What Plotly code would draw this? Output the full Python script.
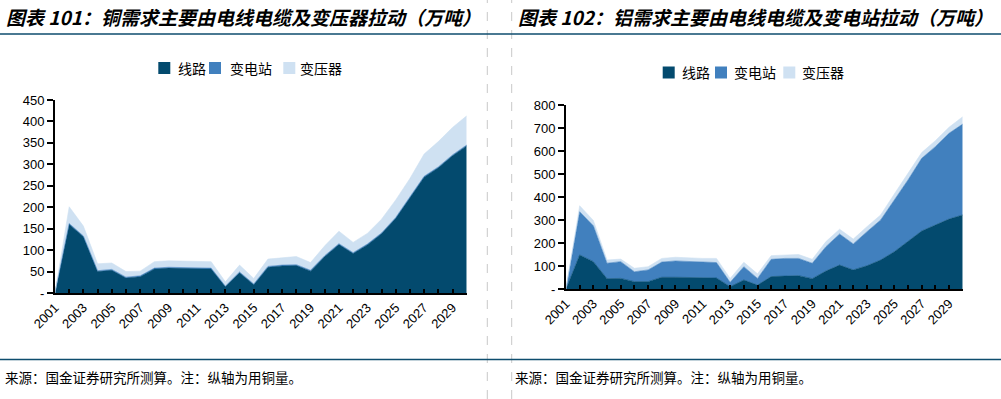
import plotly.graph_objects as go

W, H = 1001, 399

years = list(range(2001, 2031))
x_tick_labels = [str(y) for y in range(2001, 2030, 2)]

# Chart 101 - copper (万吨)
cu_line = [0, 160, 131, 50, 53, 35, 38, 56, 58, 57, 56, 56, 15, 47, 19, 60, 63, 64, 51, 85,
           113, 92, 112, 138, 174, 222, 270, 292, 320, 343]
cu_substation = [0, 2, 2, 2, 2, 2, 2, 2, 2, 2, 2, 2, 1, 2, 2, 2, 2, 2, 2, 2,
                 2, 2, 2, 2, 2, 2, 2, 2, 2, 2]
cu_transformer = [0, 39, 23, 16, 15, 13, 11, 15, 15, 15, 15, 15, 10, 16, 13, 17, 17, 19, 18, 23,
                  29, 24, 25, 32, 41, 43, 52, 59, 64, 68]

# Chart 102 - aluminium (万吨)
al_line = [0, 148, 119, 45, 46, 32, 32, 51, 51, 49, 48, 48, 10, 39, 17, 54, 56, 58, 45, 78,
           104, 83, 101, 126, 162, 206, 252, 278, 304, 322]
al_substation = [0, 188, 156, 67, 73, 43, 51, 66, 71, 70, 69, 67, 19, 58, 29, 75, 77, 75, 67, 106,
                 135, 113, 148, 174, 225, 268, 316, 341, 373, 395]
al_transformer = [0, 26, 23, 14, 11, 15, 14, 16, 16, 16, 16, 18, 17, 19, 20, 16, 16, 17, 17, 22,
                  21, 21, 22, 22, 26, 29, 25, 26, 26, 32]

series_names = ["线路", "变电站", "变压器"]
colors = ["#034A6E", "#4180BE", "#CFE1F2"]

title_left = "图表 101：铜需求主要由电线电缆及变压器拉动（万吨）"
title_right = "图表 102：铝需求主要由电线电缆及变电站拉动（万吨）"
footer_text = "来源：国金证券研究所测算。注：纵轴为用铜量。"

left_y_ticks = list(range(0, 451, 50))
right_y_ticks = list(range(0, 801, 100))


def px(x):
    return x / W


def py(y):
    return 1 - y / H


fig = go.Figure()

for vals, name, col in zip([cu_line, cu_substation, cu_transformer], series_names, colors):
    fig.add_trace(go.Scatter(x=years, y=vals, name=name, stackgroup="cu", mode="lines",
                             line=dict(width=0.6, color=col), fillcolor=col,
                             xaxis="x", yaxis="y", showlegend=False))
for vals, name, col in zip([al_line, al_substation, al_transformer], series_names, colors):
    fig.add_trace(go.Scatter(x=years, y=vals, name=name, stackgroup="al", mode="lines",
                             line=dict(width=0.6, color=col), fillcolor=col,
                             xaxis="x2", yaxis="y2", showlegend=False))

tick_font = dict(family="Arial, Liberation Sans", size=13, color="#000000")


def xaxis_cfg(domain, anchor):
    return dict(domain=domain, anchor=anchor, range=[2001, 2030], tickmode="array",
                tickvals=[int(t) for t in x_tick_labels], ticktext=x_tick_labels,
                tickangle=-45, ticks="inside", ticklen=4, tickwidth=1.5, tickcolor="black",
                minor=dict(dtick=1, tick0=2001, ticks="inside", ticklen=4, tickwidth=1.5,
                           tickcolor="black"),
                showline=True, linecolor="black", linewidth=2, showgrid=False,
                zeroline=False, tickfont=tick_font, fixedrange=True, automargin=False)


def yaxis_cfg(domain, anchor, ticks, top):
    return dict(domain=domain, anchor=anchor, range=[0, top], tickmode="array",
                tickvals=ticks, ticktext=["-"] + [str(t) for t in ticks[1:]],
                ticks="outside", ticklen=6, tickwidth=1.5, tickcolor="black",
                showline=True, linecolor="black", linewidth=2, showgrid=False,
                zeroline=False, tickfont=tick_font, fixedrange=True, automargin=False)


fig.update_layout(
    width=W, height=H,
    autosize=False,
    margin=dict(l=0, r=0, t=0, b=0, pad=0, autoexpand=False),
    paper_bgcolor="white", plot_bgcolor="white",
    xaxis=xaxis_cfg([px(55), px(466.7)], "y"),
    yaxis=yaxis_cfg([py(293), py(100)], "x", left_y_ticks, 450),
    xaxis2=xaxis_cfg([px(566), px(962.7)], "y2"),
    yaxis2=yaxis_cfg([py(289), py(105)], "x2", right_y_ticks, 800),
    showlegend=False,
)

shapes = []
annotations = []

# dashed separators
for xv in [487.3, 511.7]:
    shapes.append(dict(type="line", xref="paper", yref="paper", x0=px(xv), x1=px(xv), y0=0, y1=1,
                       line=dict(color="#C8C8C8", width=1, dash="dash")))
# horizontal rules
for yv in [34, 359.5]:
    shapes.append(dict(type="line", xref="paper", yref="paper", x0=0, x1=1, y0=py(yv), y1=py(yv),
                       line=dict(color="#0E4D6E", width=1.5)))

title_font = dict(family="Noto Sans CJK SC", size=19, color="#000000", weight="bold", style="italic")
annotations.append(dict(text=title_left, xref="paper", yref="paper", x=px(4), y=py(16),
                        xanchor="left", yanchor="middle", showarrow=False, font=title_font))
annotations.append(dict(text=title_right, xref="paper", yref="paper", x=px(516), y=py(16),
                        xanchor="left", yanchor="middle", showarrow=False, font=title_font))

foot_font = dict(family="Noto Sans CJK SC", size=13.5, color="#000000")
annotations.append(dict(text=footer_text, xref="paper", yref="paper", x=px(3), y=py(377),
                        xanchor="left", yanchor="middle", showarrow=False, font=foot_font))
annotations.append(dict(text=footer_text, xref="paper", yref="paper", x=px(513), y=py(377),
                        xanchor="left", yanchor="middle", showarrow=False, font=foot_font))

# legends (manual)
leg_font = dict(family="Noto Sans CJK SC", size=14, color="#000000")
legend_sets = [
    (68, [(158.3, 176), (209, 228), (283.3, 297.7)]),
    (72.5, [(662.7, 680), (715, 732.3), (783.3, 800)]),
]
for cy, items in legend_sets:
    for (sx, tx), name, col in zip(items, series_names, colors):
        shapes.append(dict(type="rect", xref="paper", yref="paper", x0=px(sx), x1=px(sx + 12),
                           y0=py(cy + 6), y1=py(cy - 6), fillcolor=col, line=dict(width=0)))
        annotations.append(dict(text=name, xref="paper", yref="paper", x=px(tx), y=py(cy),
                                xanchor="left", yanchor="middle", showarrow=False, font=leg_font))

fig.update_layout(shapes=shapes, annotations=annotations)

fig.write_html(
    "out.html",
    config={"responsive": False, "displayModeBar": False},
    post_script="document.body.style.margin='0';document.body.style.padding='0';",
)
